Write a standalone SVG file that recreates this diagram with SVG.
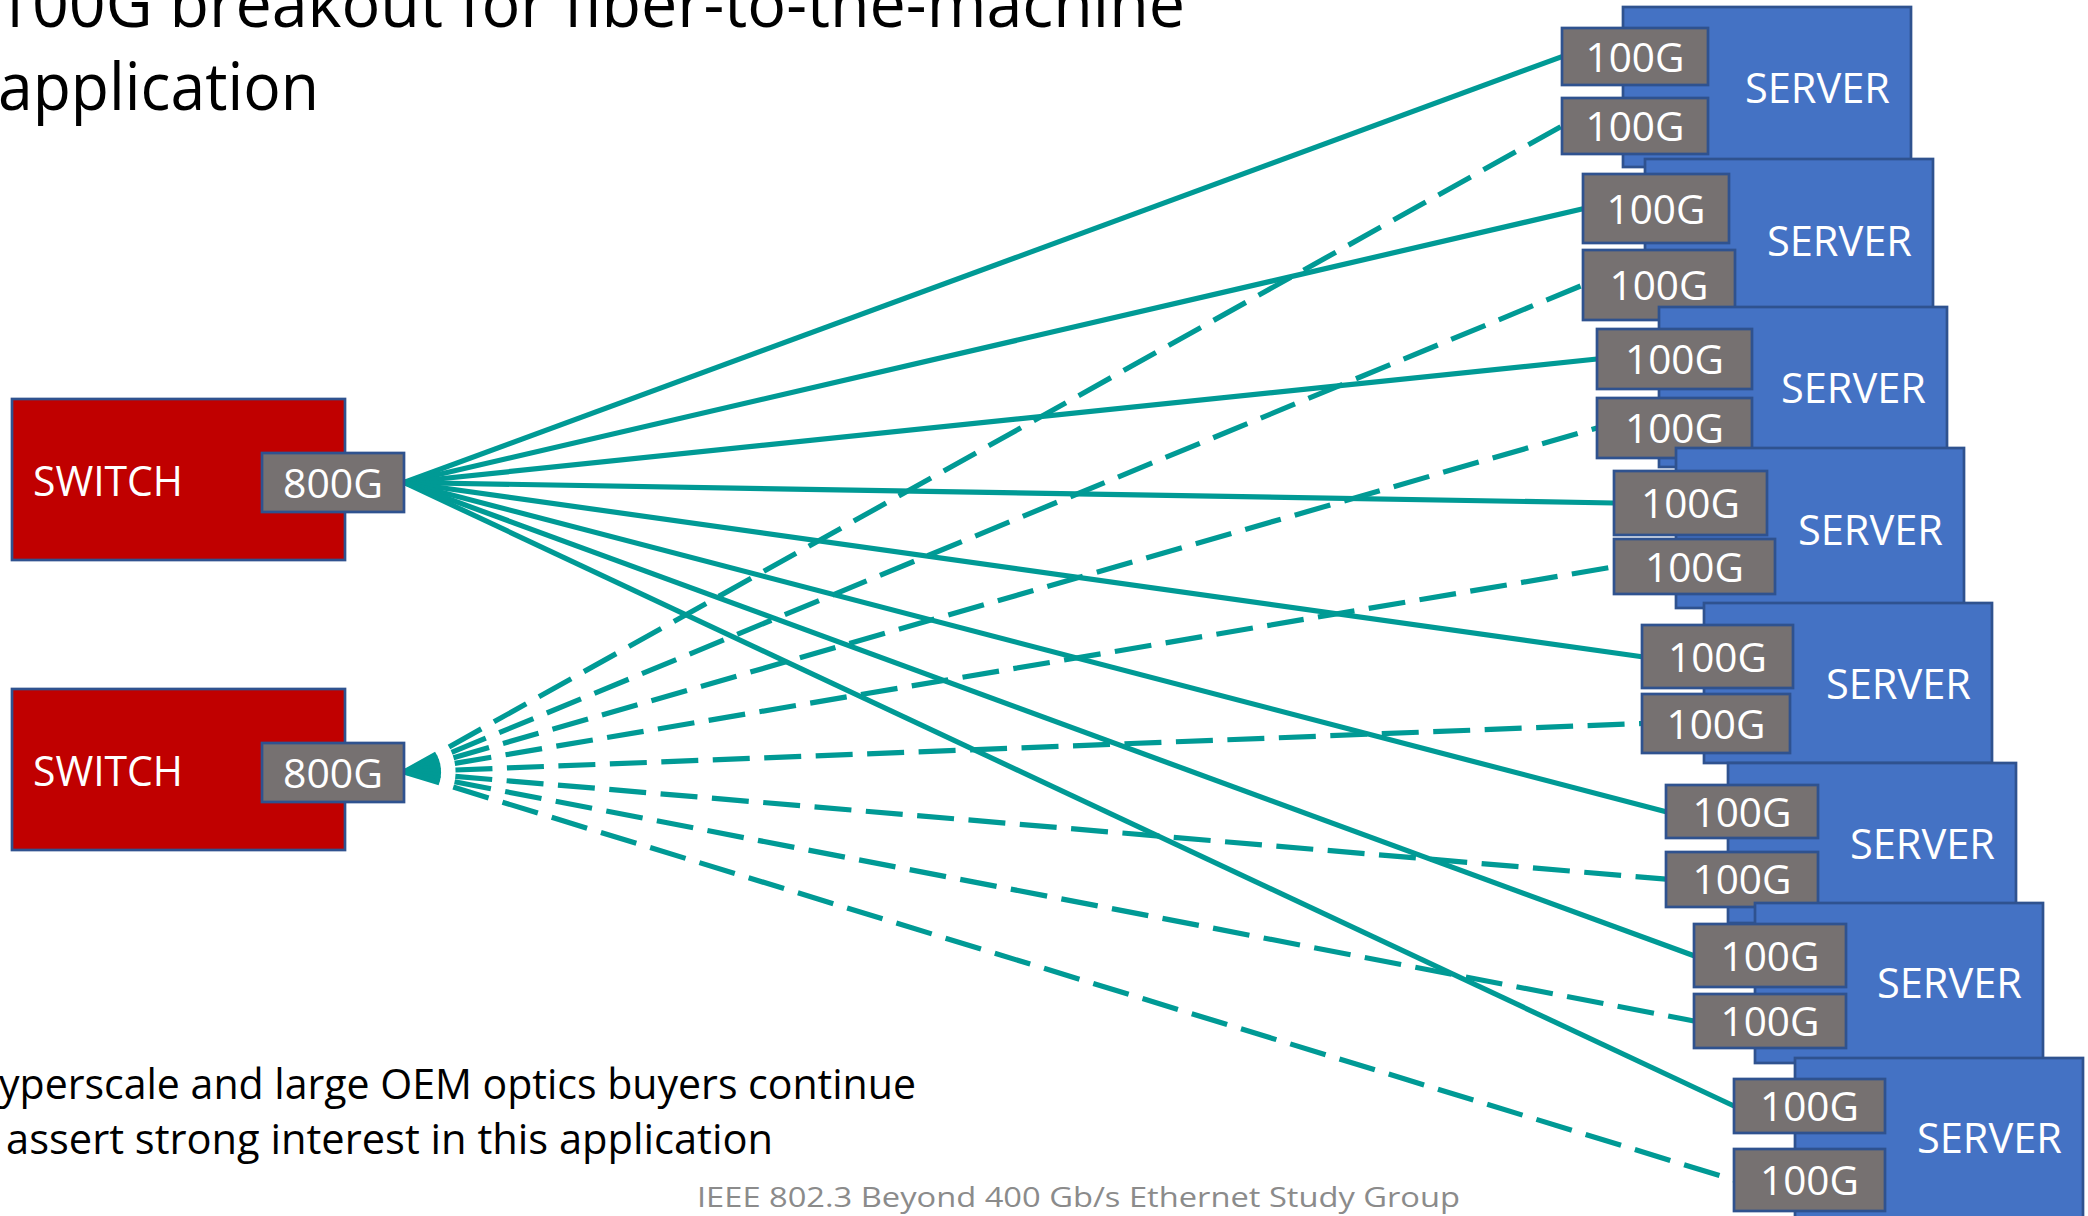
<svg xmlns="http://www.w3.org/2000/svg" width="2088" height="1216" viewBox="0 0 2088 1216">
  <style>
    .txt { font-family: "Open Sans", "Noto Sans", sans-serif; }
    .title { font-size: 65px; fill: #000000; }
    .body { font-size: 42px; fill: #000000; }
    .foot { font-size: 28px; fill: #8b8b8b; }
    .switch { fill: #C00000; stroke: #2F528F; stroke-width: 2.7; }
    .server { fill: #4472C4; stroke: #2F528F; stroke-width: 2.7; }
    .port { fill: #767171; stroke: #2F528F; stroke-width: 2.7; }
    .lbl { font-size: 42px; fill: #FFFFFF; }
    .plbl { font-size: 41px; fill: #FFFFFF; text-anchor: middle; }
    .solid { stroke: #009A95; stroke-width: 5.2; fill: none; }
    .dash { stroke: #009A95; stroke-width: 5.2; fill: none; stroke-dasharray: 37 14.5; }
  </style>

  <g id="title" class="txt title">
    <text x="-5" y="27" textLength="1190" lengthAdjust="spacingAndGlyphs">100G breakout for fiber-to-the-machine</text>
    <text x="-2" y="110" textLength="321" lengthAdjust="spacingAndGlyphs">application</text>
  </g>

  <g id="connectors">
    <line class="solid" x1="404" y1="482.5" x2="1562" y2="56.6"/>
    <line class="solid" x1="404" y1="482.5" x2="1583" y2="208.8"/>
    <line class="solid" x1="404" y1="482.5" x2="1597" y2="359"/>
    <line class="solid" x1="404" y1="482.5" x2="1614" y2="503"/>
    <line class="solid" x1="404" y1="482.5" x2="1642" y2="656.7"/>
    <line class="solid" x1="404" y1="482.5" x2="1666" y2="811.7"/>
    <line class="solid" x1="404" y1="482.5" x2="1694" y2="955.8"/>
    <line class="solid" x1="404" y1="482.5" x2="1734" y2="1106"/>
    <line class="dash" x1="404" y1="772" x2="1562" y2="126"/>
    <line class="dash" x1="404" y1="772" x2="1583" y2="285"/>
    <line class="dash" x1="404" y1="772" x2="1597" y2="428"/>
    <line class="dash" x1="404" y1="772" x2="1614" y2="566.8"/>
    <line class="dash" x1="404" y1="772" x2="1642" y2="723.5"/>
    <line class="dash" x1="404" y1="772" x2="1666" y2="879.2"/>
    <line class="dash" x1="404" y1="772" x2="1694" y2="1021"/>
    <line class="dash" x1="404" y1="772" x2="1734" y2="1180"/>
  </g>

  <g id="switch1">
    <rect class="switch" x="12" y="399" width="333" height="161"/>
    <text class="txt lbl" x="33" y="496" textLength="150" lengthAdjust="spacingAndGlyphs">SWITCH</text>
    <rect class="port" x="262" y="453" width="142" height="59"/>
    <text class="txt plbl" x="333" y="498" textLength="100" lengthAdjust="spacingAndGlyphs">800G</text>
  </g>
  <g id="switch2">
    <rect class="switch" x="12" y="689" width="333" height="161"/>
    <text class="txt lbl" x="33" y="786" textLength="150" lengthAdjust="spacingAndGlyphs">SWITCH</text>
    <rect class="port" x="262" y="743" width="142" height="59"/>
    <text class="txt plbl" x="333" y="788" textLength="100" lengthAdjust="spacingAndGlyphs">800G</text>
  </g>

  <g id="server1">
    <rect class="server" x="1623" y="7" width="288" height="160"/>
    <text class="txt lbl" x="1745" y="103" textLength="145" lengthAdjust="spacingAndGlyphs">SERVER</text>
    <rect class="port" x="1562" y="28" width="146" height="57"/>
    <text class="txt plbl" x="1635" y="72" textLength="99" lengthAdjust="spacingAndGlyphs">100G</text>
    <rect class="port" x="1562" y="98" width="146" height="56"/>
    <text class="txt plbl" x="1635" y="141" textLength="99" lengthAdjust="spacingAndGlyphs">100G</text>
  </g>
  <g id="server2">
    <rect class="server" x="1645" y="159" width="288" height="160"/>
    <text class="txt lbl" x="1767" y="256" textLength="145" lengthAdjust="spacingAndGlyphs">SERVER</text>
    <rect class="port" x="1583" y="174" width="146" height="69"/>
    <text class="txt plbl" x="1656" y="224" textLength="99" lengthAdjust="spacingAndGlyphs">100G</text>
    <rect class="port" x="1583" y="250" width="152" height="70"/>
    <text class="txt plbl" x="1659" y="300" textLength="99" lengthAdjust="spacingAndGlyphs">100G</text>
  </g>
  <g id="server3">
    <rect class="server" x="1659" y="307" width="288" height="160"/>
    <text class="txt lbl" x="1781" y="403" textLength="145" lengthAdjust="spacingAndGlyphs">SERVER</text>
    <rect class="port" x="1597" y="329" width="155" height="60"/>
    <text class="txt plbl" x="1674.5" y="374" textLength="99" lengthAdjust="spacingAndGlyphs">100G</text>
    <rect class="port" x="1597" y="398" width="155" height="60"/>
    <text class="txt plbl" x="1674.5" y="443" textLength="99" lengthAdjust="spacingAndGlyphs">100G</text>
  </g>
  <g id="server4">
    <rect class="server" x="1676" y="448" width="288" height="160"/>
    <text class="txt lbl" x="1798" y="545" textLength="145" lengthAdjust="spacingAndGlyphs">SERVER</text>
    <rect class="port" x="1614" y="471" width="153" height="64"/>
    <text class="txt plbl" x="1690.5" y="518" textLength="99" lengthAdjust="spacingAndGlyphs">100G</text>
    <rect class="port" x="1614" y="539" width="161" height="55"/>
    <text class="txt plbl" x="1694.5" y="582" textLength="99" lengthAdjust="spacingAndGlyphs">100G</text>
  </g>
  <g id="server5">
    <rect class="server" x="1704" y="603" width="288" height="160"/>
    <text class="txt lbl" x="1826" y="699" textLength="145" lengthAdjust="spacingAndGlyphs">SERVER</text>
    <rect class="port" x="1642" y="625" width="151" height="63"/>
    <text class="txt plbl" x="1717.5" y="672" textLength="99" lengthAdjust="spacingAndGlyphs">100G</text>
    <rect class="port" x="1642" y="694" width="148" height="59"/>
    <text class="txt plbl" x="1716" y="739" textLength="99" lengthAdjust="spacingAndGlyphs">100G</text>
  </g>
  <g id="server6">
    <rect class="server" x="1728" y="763" width="288" height="160"/>
    <text class="txt lbl" x="1850" y="859" textLength="145" lengthAdjust="spacingAndGlyphs">SERVER</text>
    <rect class="port" x="1666" y="785" width="152" height="53"/>
    <text class="txt plbl" x="1742" y="827" textLength="99" lengthAdjust="spacingAndGlyphs">100G</text>
    <rect class="port" x="1666" y="852" width="152" height="55"/>
    <text class="txt plbl" x="1742" y="894" textLength="99" lengthAdjust="spacingAndGlyphs">100G</text>
  </g>
  <g id="server7">
    <rect class="server" x="1755" y="903" width="288" height="160"/>
    <text class="txt lbl" x="1877" y="998" textLength="145" lengthAdjust="spacingAndGlyphs">SERVER</text>
    <rect class="port" x="1694" y="924" width="152" height="63"/>
    <text class="txt plbl" x="1770" y="971" textLength="99" lengthAdjust="spacingAndGlyphs">100G</text>
    <rect class="port" x="1694" y="994" width="152" height="54"/>
    <text class="txt plbl" x="1770" y="1036" textLength="99" lengthAdjust="spacingAndGlyphs">100G</text>
  </g>
  <g id="server8">
    <rect class="server" x="1795" y="1058" width="288" height="165"/>
    <text class="txt lbl" x="1917" y="1153" textLength="145" lengthAdjust="spacingAndGlyphs">SERVER</text>
    <rect class="port" x="1734" y="1079" width="151" height="54"/>
    <text class="txt plbl" x="1809.5" y="1121" textLength="99" lengthAdjust="spacingAndGlyphs">100G</text>
    <rect class="port" x="1734" y="1149" width="151" height="62"/>
    <text class="txt plbl" x="1809.5" y="1195" textLength="99" lengthAdjust="spacingAndGlyphs">100G</text>
  </g>

  <g id="bodytext" class="txt body">
    <text x="-1" y="1099" textLength="917" lengthAdjust="spacingAndGlyphs">yperscale and large OEM optics buyers continue</text>
    <text x="6" y="1154" textLength="767" lengthAdjust="spacingAndGlyphs">assert strong interest in this application</text>
  </g>
  <g id="footer" class="txt foot">
    <text x="697" y="1207" textLength="763" lengthAdjust="spacingAndGlyphs">IEEE 802.3 Beyond 400 Gb/s Ethernet Study Group</text>
  </g>
</svg>
